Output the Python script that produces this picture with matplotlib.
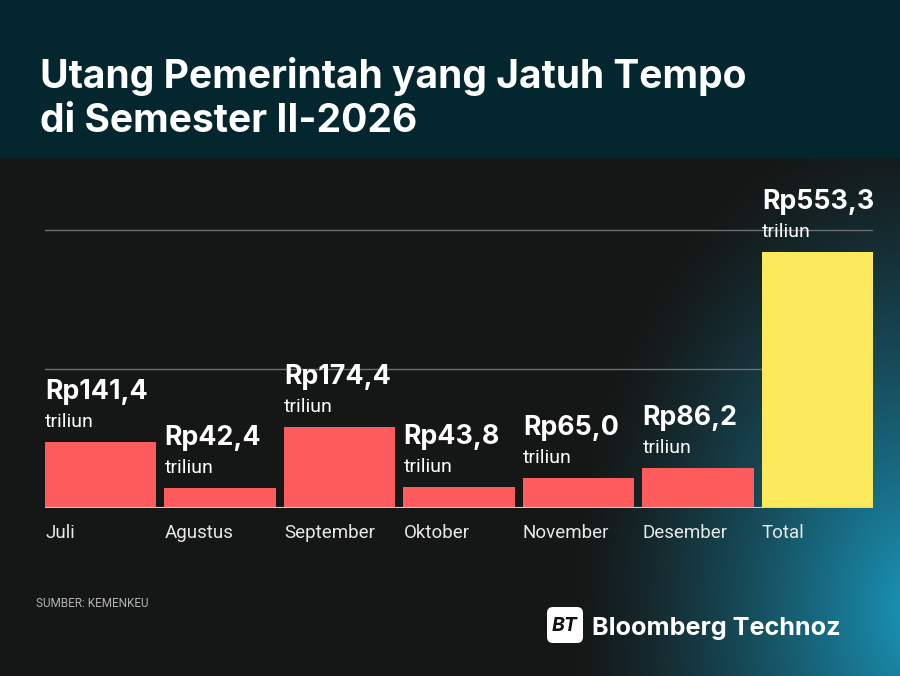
import numpy as np
import matplotlib
matplotlib.use("Agg")
import matplotlib.pyplot as plt
from matplotlib.patches import Rectangle, FancyBboxPatch

categories = ["Juli", "Agustus", "September", "Oktober", "November", "Desember", "Total"]
values = [141.4, 42.4, 174.4, 43.8, 65.0, 86.2, 553.3]
value_labels = ["Rp141,4", "Rp42,4", "Rp174,4", "Rp43,8", "Rp65,0", "Rp86,2", "Rp553,3"]
unit_label = "triliun"
grid_values = [300, 600]
title_lines = ["Utang Pemerintah yang Jatuh Tempo", "di Semester II-2026"]
source_text = "SUMBER: KEMENKEU"
brand_text = "Bloomberg Technoz"

W, H = 900, 676
DPI = 100
fig = plt.figure(figsize=(W / DPI, H / DPI), dpi=DPI)

def fx(px):
    return px / W

def fy(py):
    return 1 - py / H

# background with radial teal glow
bg = fig.add_axes([0, 0, 1, 1])
bg.set_axis_off()
yy, xx = np.mgrid[0:H, 0:W]
d = np.sqrt(((xx - 920) / 350.0) ** 2 + ((yy - 610) / 500.0) ** 2)
t = np.clip(1 - d, 0, 1) ** 1.3
base = np.array([0x14, 0x17, 0x16]) / 255.0
teal = np.array([0x1a, 0x98, 0xbc]) / 255.0
img = base[None, None, :] * (1 - t[..., None]) + teal[None, None, :] * t[..., None]
bg.imshow(img, extent=[0, W, H, 0], aspect="auto", interpolation="bilinear")
bg.set_xlim(0, W)
bg.set_ylim(H, 0)
bg.add_patch(Rectangle((0, 0), W, 157, color="#03262f", zorder=2))

renderer = fig.canvas.get_renderer()

def fit_text(txt, target_w):
    ext = txt.get_window_extent(renderer=renderer)
    txt.set_fontsize(txt.get_fontsize() * target_w / ext.width)
    return txt.get_fontsize()

# chart axes
left_px, right_px = 45, 873
base_px = 507.7
px_per_unit = 0.4627
ymax = 650
top_px = base_px - ymax * px_per_unit
ax = fig.add_axes([fx(left_px), fy(base_px), fx(right_px - left_px), (base_px - top_px) / H])
ax.set_facecolor("none")
ax.set_axis_off()
n = len(categories)
bw = 0.93
ax.set_xlim(-bw / 2, n - 1 + bw / 2)
ax.set_ylim(0, ymax)
x = np.arange(n)
colors = ["#fe5c5c"] * (n - 1) + ["#fdea5c"]
for g in grid_values:
    ax.axhline(g, color="#6a6f6f", lw=1, zorder=1)
ax.bar(x, values, width=bw, color=colors, zorder=2)
ax.axhline(0, color="#d0d0d0", lw=1.5, zorder=3, xmin=0, xmax=1)

VAL_FONT = "Inter"
probe = fig.text(0, 0, value_labels[-1], fontsize=20, family=VAL_FONT, fontweight="bold")
val_fs = fit_text(probe, 112)
probe.remove()

for i in range(n):
    xl = x[i] - bw / 2
    ax.annotate(unit_label, (xl, values[i]), xytext=(0, 15 * 0.72), textcoords="offset points",
                ha="left", va="baseline", color="white", fontsize=14, family="Roboto", zorder=5)
    ax.annotate(value_labels[i], (xl, values[i]), xytext=(0, 43 * 0.72), textcoords="offset points",
                ha="left", va="baseline", color="white", fontsize=val_fs, family=VAL_FONT,
                fontweight="bold", zorder=5)
    ax.annotate(categories[i], (xl, 0), xytext=(0, -30.5 * 0.72), textcoords="offset points",
                ha="left", va="baseline", color="#e8e8e8", fontsize=13.5, family="Roboto", zorder=5)

t1 = fig.text(fx(40), fy(88), title_lines[0], color="white", fontsize=30, family="Inter",
              fontweight="bold", ha="left", va="baseline")
fit_text(t1, 708)
t2 = fig.text(fx(40), fy(132), title_lines[1], color="white", fontsize=t1.get_fontsize(),
              family="Inter", fontweight="bold", ha="left", va="baseline")

src = fig.text(fx(36), fy(607), source_text, color="#b4b4b4", fontsize=7, family="Roboto",
               ha="left", va="baseline")
fit_text(src, 112)

# logo
bg.add_patch(FancyBboxPatch((549, 609), 32, 32, boxstyle="round,pad=2,rounding_size=6",
                            facecolor="white", edgecolor="none", zorder=3))
bg.text(565, 626, "BT", color="#111111", fontsize=14, family="Inter", fontweight="bold",
        style="italic", ha="center", va="center", zorder=4)
tb = fig.text(fx(592), fy(635), brand_text, color="white", fontsize=18, family="Inter",
              fontweight="bold", ha="left", va="baseline")
fit_text(tb, 248)

fig.savefig("out.png", dpi=DPI, facecolor="#141716")
